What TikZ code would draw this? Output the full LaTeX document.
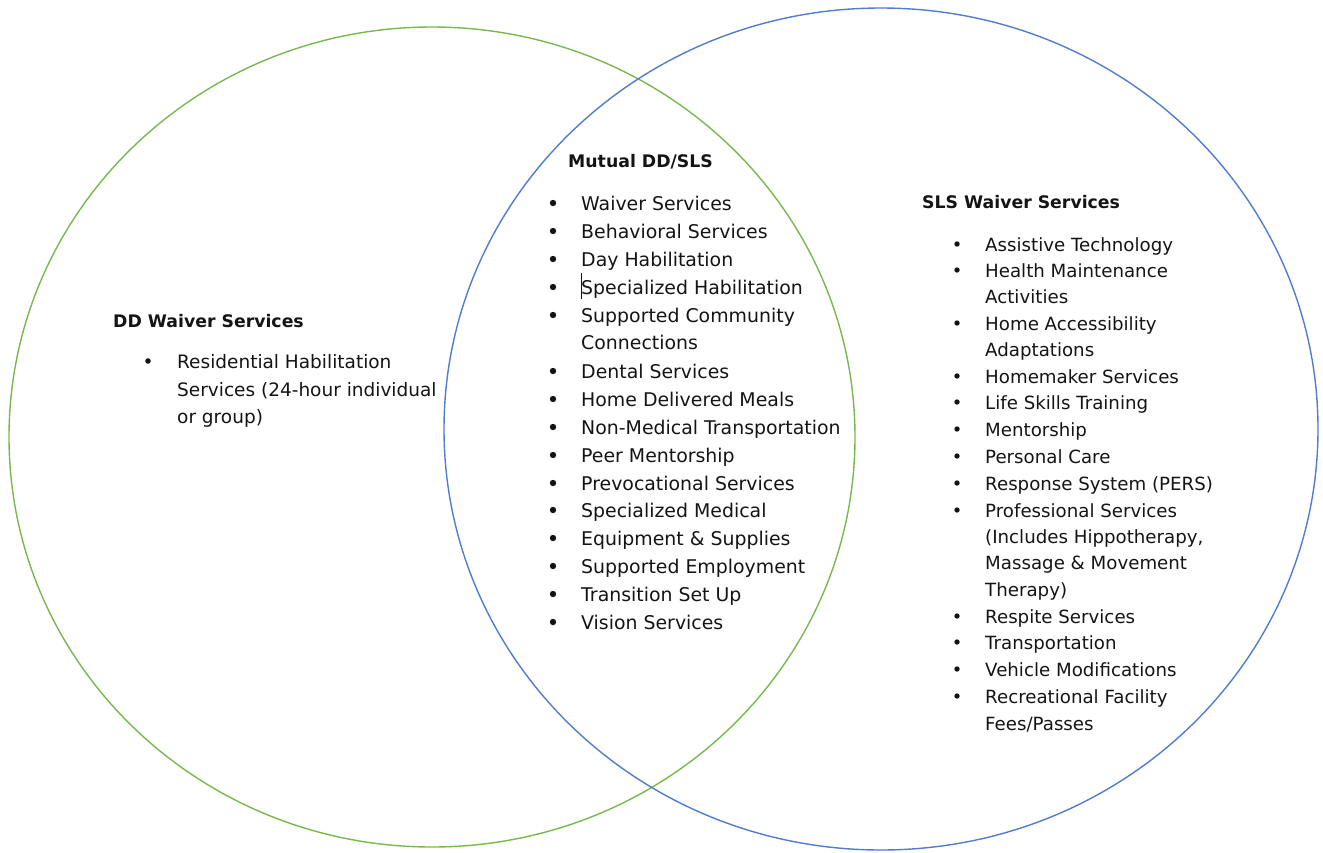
\documentclass[tikz,border=0pt]{standalone}
\usepackage{fontspec}
\setmainfont{DejaVu Sans}
\definecolor{vgreen}{RGB}{120,184,80}
\definecolor{vblue}{RGB}{80,125,205}
\definecolor{txt}{RGB}{20,20,20}
\tikzset{
  ring/.style={line width=1.4pt},
  head/.style={anchor=base west,inner sep=0pt,text=txt,font=\fontsize{17.3}{20}\selectfont\bfseries},
  itemm/.style={anchor=base west,inner sep=0pt,text=txt,font=\fontsize{18.9}{22}\selectfont},
  items/.style={anchor=base west,inner sep=0pt,text=txt,font=\fontsize{18.2}{22}\selectfont},
  itemd/.style={anchor=base west,inner sep=0pt,text=txt,font=\fontsize{18.5}{22}\selectfont},
  bul/.style={circle,fill=txt,inner sep=0pt,minimum size=6.4pt},
}
\begin{document}
\begin{tikzpicture}[x=1pt,y=-1pt]
\useasboundingbox (0,0) rectangle (1323,852);
\draw[ring,vgreen] (432,437) ellipse [x radius=423pt, y radius=410pt];
\draw[ring,vblue] (881,429) ellipse [x radius=437pt, y radius=421pt];

% DD
\node[head] (ddh) at (113,327) {DD Waiver Services};
\node[bul,minimum size=5.6pt] (ddb) at (148,361) {};
\node[itemd] (dd1) at (177,368) {Residential Habilitation};
\node[itemd] (dd2) at (177,396) {Services (24-hour individual};
\node[itemd] (dd3) at (177,423) {or group)};

% Mutual
\node[head] (muh) at (568,167) {Mutual DD/SLS};
\foreach \t/\y/\b [count=\i] in {
  {Waiver Services}/210/1,
  {Behavioral Services}/238/1,
  {Day Habilitation}/266/1,
  {Specialized Habilitation}/294/1,
  {Supported Community}/322/1,
  {Connections}/349/0,
  {Dental Services}/378/1,
  {Home Delivered Meals}/406/1,
  {Non-Medical Transportation}/434/1,
  {Peer Mentorship}/462/1,
  {Prevocational Services}/490/1,
  {Specialized Medical}/517/1,
  {Equipment \& Supplies}/545/1,
  {Supported Employment}/573/1,
  {Transition Set Up}/601/1,
  {Vision Services}/629/1}{
  \node[itemm] (mt\i) at (581,\y) {\t};
  \ifnum\b=1 \node[bul] (mb\i) at (553,\y-7) {};\fi
}
\draw[line width=0.8pt,txt] (581.5,273) -- (581.5,299);

% SLS
\node[head] (slh) at (922,208) {SLS Waiver Services};
\foreach \t/\y/\b [count=\i] in {
  {Assistive Technology}/251/1,
  {Health Maintenance}/277/1,
  {Activities}/303/0,
  {Home Accessibility}/330/1,
  {Adaptations}/356/0,
  {Homemaker Services}/383/1,
  {Life Skills Training}/409/1,
  {Mentorship}/436/1,
  {Personal Care}/463/1,
  {Response System (PERS)}/490/1,
  {Professional Services}/517/1,
  {(Includes Hippotherapy,}/543/0,
  {Massage \& Movement}/569/0,
  {Therapy)}/596/0,
  {Respite Services}/623/1,
  {Transportation}/649/1,
  {Vehicle Modifications}/676/1,
  {Recreational Facility}/703/1,
  {Fees/Passes}/730/0}{
  \node[items] (st\i) at (985,\y) {\t};
  \ifnum\b=1 \node[bul,minimum size=5.4pt] (sb\i) at (957,\y-7) {};\fi
}
\end{tikzpicture}
\end{document}
